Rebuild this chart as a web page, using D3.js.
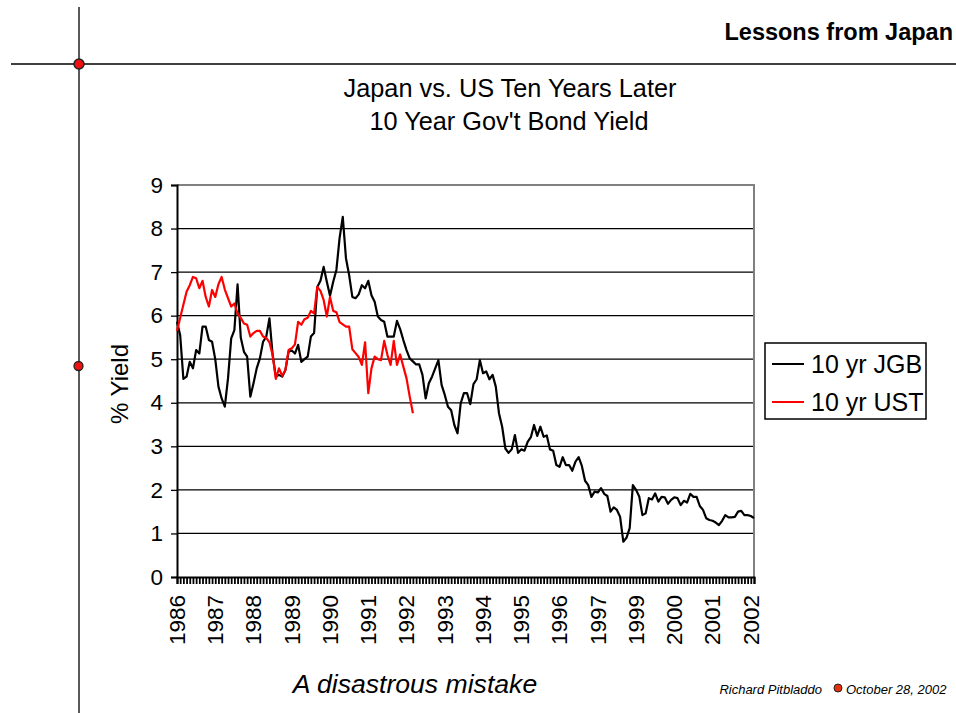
<!DOCTYPE html>
<html>
<head>
<meta charset="utf-8">
<script src="https://cdn.jsdelivr.net/npm/d3@7"></script>
<style>
  html, body { margin: 0; padding: 0; background: #fff; }
  svg { display: block; font-family: "Liberation Sans", Arial, Helvetica, sans-serif; }
</style>
</head>
<body>
<svg id="chart" width="956" height="713"></svg>
<script>
// Monthly 10-year government bond yields (%), Japan from 1986, US from 1996 (shifted ten years back)
const jgb = [
  5.86, 5.55, 4.55, 4.60, 4.94, 4.79, 5.21, 5.13, 5.75, 5.75,
  5.44, 5.40, 5.00, 4.37, 4.10, 3.91, 4.56, 5.48, 5.67, 6.72,
  5.50, 5.17, 5.06, 4.14, 4.45, 4.79, 5.02, 5.40, 5.52, 5.94,
  5.10, 4.60, 4.64, 4.60, 4.75, 5.17, 5.20, 5.13, 5.33, 4.94,
  5.00, 5.06, 5.52, 5.60, 6.66, 6.80, 7.12, 6.78, 6.46, 6.78,
  7.05, 7.78, 8.27, 7.32, 6.93, 6.43, 6.40, 6.49, 6.70, 6.63,
  6.80, 6.47, 6.32, 5.98, 5.90, 5.86, 5.52, 5.52, 5.52, 5.88,
  5.69, 5.44, 5.21, 5.02, 4.95, 4.88, 4.88, 4.64, 4.10, 4.45,
  4.60, 4.79, 4.98, 4.41, 4.18, 3.91, 3.83, 3.49, 3.30, 3.99,
  4.22, 4.22, 3.97, 4.43, 4.54, 4.98, 4.68, 4.72, 4.54, 4.64,
  4.37, 3.76, 3.45, 2.95, 2.85, 2.93, 3.26, 2.85, 2.93, 2.90,
  3.10, 3.21, 3.49, 3.24, 3.45, 3.22, 3.25, 2.93, 2.90, 2.57,
  2.53, 2.75, 2.57, 2.57, 2.44, 2.65, 2.75, 2.55, 2.21, 2.11,
  1.84, 1.96, 1.94, 2.04, 1.91, 1.86, 1.50, 1.60, 1.54, 1.38,
  0.81, 0.90, 1.12, 2.11, 2.00, 1.85, 1.42, 1.46, 1.81, 1.78,
  1.92, 1.73, 1.84, 1.83, 1.68, 1.77, 1.83, 1.81, 1.65, 1.75,
  1.71, 1.91, 1.84, 1.84, 1.63, 1.54, 1.35, 1.31, 1.29, 1.25,
  1.19, 1.29, 1.42, 1.37, 1.37, 1.38, 1.50, 1.52, 1.42, 1.42,
  1.40, 1.35
];
const ust = [
  5.65, 5.95, 6.25, 6.55, 6.70, 6.89, 6.86, 6.63, 6.80, 6.43,
  6.21, 6.59, 6.43, 6.72, 6.89, 6.60, 6.40, 6.21, 6.28, 6.05,
  5.95, 5.82, 5.79, 5.52, 5.60, 5.65, 5.65, 5.52, 5.49, 5.39,
  5.10, 4.55, 4.79, 4.62, 4.75, 5.21, 5.25, 5.34, 5.86, 5.79,
  5.92, 5.95, 6.11, 6.05, 6.66, 6.57, 6.36, 5.98, 6.43, 6.11,
  6.08, 5.85, 5.80, 5.75, 5.75, 5.23, 5.14, 5.05, 4.87, 5.39,
  4.22, 4.79, 5.06, 5.00, 4.98, 5.42, 5.10, 4.87, 5.42, 4.87,
  5.11, 4.83, 4.56, 4.14, 3.76
];
// Category labels, one every twelve months
const yearLabels = ["1986","1987","1988","1989","1990","1991","1992","1993",
                    "1994","1995","1996","1997","1999","2000","2001","2002"];
const yTicks = [0,1,2,3,4,5,6,7,8,9];
const seriesNames = ["10 yr JGB", "10 yr UST"];
const seriesColors = ["#000000", "#ff0000"];

const svg = d3.select("#chart");
const plot = { left: 177, right: 754, top: 185, bottom: 577 };

const x = d3.scaleLinear().domain([0, jgb.length - 1]).range([plot.left, plot.right]);
const y = d3.scaleLinear().domain([0, 9]).range([plot.bottom, plot.top]);

// Page frame lines with markers
svg.append("line").attr("x1", 79).attr("x2", 79).attr("y1", 7).attr("y2", 713)
  .attr("stroke", "#000").attr("stroke-width", 1.3);
svg.append("line").attr("x1", 11).attr("x2", 956).attr("y1", 64).attr("y2", 64)
  .attr("stroke", "#000").attr("stroke-width", 1.3);
svg.append("circle").attr("cx", 79).attr("cy", 64).attr("r", 5)
  .attr("fill", "#ee1111").attr("stroke", "#222").attr("stroke-width", 1.5);
svg.append("circle").attr("cx", 78.5).attr("cy", 366).attr("r", 4.5)
  .attr("fill", "#ee1111").attr("stroke", "#222").attr("stroke-width", 1.3);

svg.append("text").attr("x", 953).attr("y", 32).attr("dy", "0.35em")
  .attr("text-anchor", "end").attr("font-weight", "bold").attr("font-size", 23.5)
  .text("Lessons from Japan");

// Titles
svg.append("text").attr("x", 510).attr("y", 88).attr("dy", "0.35em")
  .attr("text-anchor", "middle").attr("font-size", 25.3).text("Japan vs. US Ten Years Later");
svg.append("text").attr("x", 509).attr("y", 121).attr("dy", "0.35em")
  .attr("text-anchor", "middle").attr("font-size", 25.3).text("10 Year Gov't Bond Yield");

// Gridlines
svg.append("g").selectAll("line").data(yTicks.filter(d => d > 0 && d < 9)).join("line")
  .attr("x1", plot.left).attr("x2", plot.right)
  .attr("y1", d => y(d)).attr("y2", d => y(d))
  .attr("stroke", "#000").attr("stroke-width", 1.2);

// Plot frame (top and right)
svg.append("path")
  .attr("d", `M${plot.left},${plot.top}H${plot.right}V${plot.bottom}`)
  .attr("fill", "none").attr("stroke", "#808080").attr("stroke-width", 2);

// Y axis
const yAxis = d3.axisLeft(y).tickValues(yTicks).tickSize(6).tickPadding(8);
const gy = svg.append("g").attr("transform", `translate(${plot.left},0)`).call(yAxis);
gy.select(".domain").attr("stroke", "#000").attr("stroke-width", 2);
gy.selectAll(".tick line").attr("stroke", "#000").attr("stroke-width", 1.3);
gy.selectAll(".tick text").attr("font-size", 22.5).attr("fill", "#000")
  .attr("font-family", "'Liberation Sans', Arial, sans-serif");

svg.append("text").attr("transform", "translate(120,384) rotate(-90)")
  .attr("dy", "0.35em").attr("text-anchor", "middle").attr("font-size", 24).text("% Yield");

// X axis: one tick per month
const xAxis = d3.axisBottom(x).tickValues(d3.range(jgb.length)).tickSize(7).tickFormat("");
const gx = svg.append("g").attr("transform", `translate(0,${plot.bottom})`).call(xAxis);
gx.select(".domain").attr("stroke", "#000").attr("stroke-width", 2);
gx.selectAll(".tick line").attr("stroke", "#000").attr("stroke-width", 1.8);

svg.append("g").selectAll("text").data(yearLabels).join("text")
  .attr("transform", (d, i) => `translate(${x(i * 12)},${plot.bottom + 18}) rotate(-90)`)
  .attr("dy", "0.35em").attr("text-anchor", "end").attr("font-size", 22.5).text(d => d);

// Series lines
const line = d3.line().x((d, i) => x(i)).y(d => y(d));
[jgb, ust].forEach((s, k) => {
  svg.append("path").datum(s).attr("d", line)
    .attr("fill", "none").attr("stroke", seriesColors[k]).attr("stroke-width", 2.2)
    .attr("stroke-linejoin", "round");
});

// Legend
const lg = svg.append("g");
lg.append("rect").attr("x", 765).attr("y", 343).attr("width", 161).attr("height", 76)
  .attr("fill", "#fff").attr("stroke", "#000").attr("stroke-width", 1.5);
seriesNames.forEach((name, k) => {
  const cy = 364 + k * 38;
  lg.append("line").attr("x1", 772).attr("x2", 804).attr("y1", cy).attr("y2", cy)
    .attr("stroke", seriesColors[k]).attr("stroke-width", 2);
  lg.append("text").attr("x", 811).attr("y", cy).attr("dy", "0.35em")
    .attr("font-size", 25).text(name);
});

// Caption and footer
svg.append("text").attr("x", 415).attr("y", 684).attr("dy", "0.35em")
  .attr("text-anchor", "middle").attr("font-style", "italic").attr("font-size", 26.6)
  .text("A disastrous mistake");
svg.append("text").attr("x", 822).attr("y", 689).attr("dy", "0.35em")
  .attr("text-anchor", "end").attr("font-style", "italic").attr("font-size", 13)
  .text("Richard Pitbladdo");
svg.append("circle").attr("cx", 838).attr("cy", 688).attr("r", 4)
  .attr("fill", "#e8300a").attr("stroke", "#222").attr("stroke-width", 1);
svg.append("text").attr("x", 846).attr("y", 689).attr("dy", "0.35em")
  .attr("font-style", "italic").attr("font-size", 13)
  .text("October 28, 2002");
</script>
</body>
</html>
